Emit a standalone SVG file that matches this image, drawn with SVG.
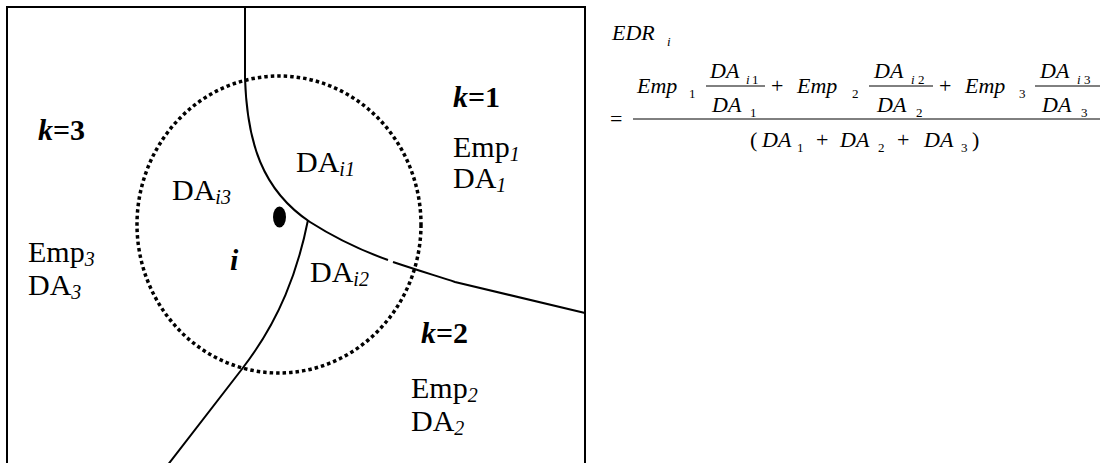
<svg xmlns="http://www.w3.org/2000/svg" width="1104" height="463" viewBox="0 0 1104 463">
<style>
text{font-family:"Liberation Serif","Times New Roman",serif;fill:#000}
.lab{font-size:30px}
.sub{font-size:20px;font-style:italic}
.k{font-size:30px;font-weight:bold}
.it{font-style:italic}
.f{font-size:22px;font-style:italic}
.s{font-size:13px}
.si{font-size:13px;font-style:italic}
.op{font-size:22px}
.bound{fill:none;stroke:#000;stroke-width:2}
.bar{stroke:#000;stroke-width:1}
</style>
<rect width="1104" height="463" fill="#fff"/>
<g id="frame"><path class="bound" d="M7,475 L7,7 L585,7 L585,475"/></g>
<g id="connectors">
<path class="bound" d="M245,7 L245,78 C247,142 262,190 310,222 C335,238 360,250 388,260 M393,262 C420,271 440,277 455,282 L585,313"/>
<path class="bound" d="M308,220 C298,270 280,320 242,369 L160,475"/>
</g>
<g id="circle"><ellipse cx="279" cy="224.5" rx="142" ry="148.5" fill="none" stroke="#000" stroke-width="3.5" stroke-dasharray="3.5 3"/></g>
<g id="point"><ellipse cx="279.5" cy="217" rx="6.5" ry="10.5" fill="#000"/></g>
<g id="zone1">
<text class="k" x="453" y="107"><tspan class="it">k</tspan>=1</text>
<text class="lab" x="453" y="157">Emp<tspan class="sub" dy="4">1</tspan></text>
<text class="lab" x="453" y="188">DA<tspan class="sub" dy="4">1</tspan></text>
</g>
<g id="zone3">
<text class="k" x="38" y="140"><tspan class="it">k</tspan>=3</text>
<text class="lab" x="28" y="262">Emp<tspan class="sub" dy="4">3</tspan></text>
<text class="lab" x="28" y="295">DA<tspan class="sub" dy="4">3</tspan></text>
</g>
<g id="zone2">
<text class="k" x="421" y="343"><tspan class="it">k</tspan>=2</text>
<text class="lab" x="411" y="398">Emp<tspan class="sub" dy="4">2</tspan></text>
<text class="lab" x="411" y="431">DA<tspan class="sub" dy="4">2</tspan></text>
</g>
<g id="inner">
<text class="lab" x="296" y="172">DA<tspan class="sub" dy="4">i1</tspan></text>
<text class="lab" x="172" y="200">DA<tspan class="sub" dy="4">i3</tspan></text>
<text class="lab" x="310" y="282">DA<tspan class="sub" dy="4">i2</tspan></text>
<text class="k it" x="230" y="270">i</text>
</g>
<g id="formula">
<text class="f" x="612" y="40">EDR</text>
<text class="si" x="667" y="46">i</text>
<text class="op" x="610" y="126">=</text>
<line class="bar" x1="633" y1="119" x2="1100" y2="119"/>
<text class="f" x="637" y="93">Emp</text><text class="s" x="689" y="98">1</text>
<text class="f" x="710" y="78">DA</text><text class="si" x="746" y="84">i</text><text class="s" x="752" y="84">1</text>
<line class="bar" x1="706" y1="86" x2="765" y2="86"/>
<text class="f" x="712" y="112">DA</text><text class="s" x="750" y="117">1</text>
<text class="op" x="771" y="93">+</text>
<text class="f" x="797" y="93">Emp</text><text class="s" x="852" y="98">2</text>
<text class="f" x="874" y="78">DA</text><text class="si" x="911" y="84">i</text><text class="s" x="918" y="84">2</text>
<line class="bar" x1="869" y1="86" x2="933" y2="86"/>
<text class="f" x="877" y="112">DA</text><text class="s" x="916" y="117">2</text>
<text class="op" x="939" y="93">+</text>
<text class="f" x="965" y="93">Emp</text><text class="s" x="1019" y="98">3</text>
<text class="f" x="1040" y="78">DA</text><text class="si" x="1077" y="84">i</text><text class="s" x="1084" y="84">3</text>
<line class="bar" x1="1035" y1="86" x2="1100" y2="86"/>
<text class="f" x="1042" y="112">DA</text><text class="s" x="1081" y="117">3</text>
<text class="op" x="750" y="147">(</text>
<text class="f" x="762" y="147">DA</text><text class="s" x="797" y="152">1</text>
<text class="op" x="816" y="147">+</text>
<text class="f" x="840" y="147">DA</text><text class="s" x="878" y="152">2</text>
<text class="op" x="897" y="147">+</text>
<text class="f" x="924" y="147">DA</text><text class="s" x="961" y="152">3</text>
<text class="op" x="972" y="147">)</text>
</g>
</svg>
